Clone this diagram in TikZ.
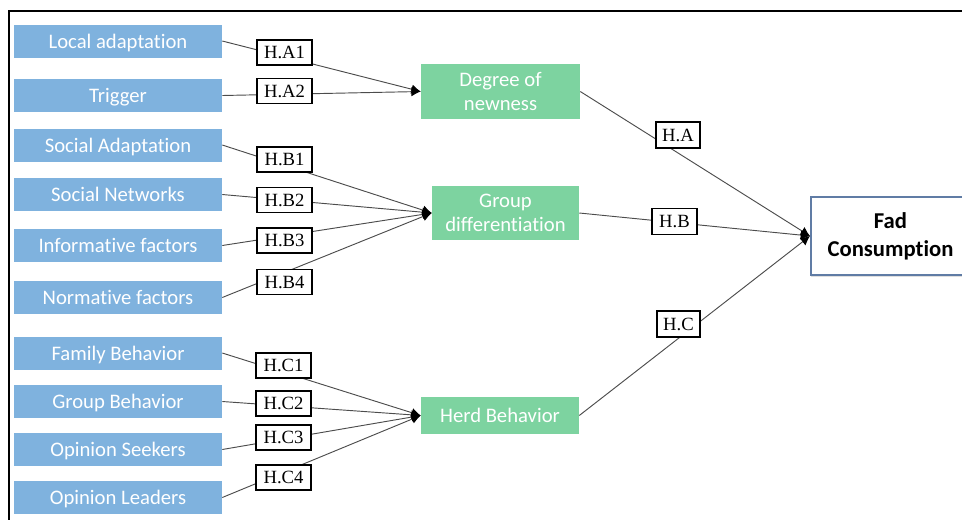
\documentclass[tikz,border=0pt]{standalone}
\usepackage{fontspec}
\setmainfont{Carlito}[Ligatures=NoCommon]
\newfontfamily\labfont{Liberation Serif}
\usetikzlibrary{arrows.meta,shadows}
\definecolor{bluebox}{RGB}{127,178,222}
\definecolor{greenbox}{RGB}{125,211,160}
\definecolor{fadborder}{RGB}{96,124,165}
\begin{document}
\begin{tikzpicture}[x=0.75pt,y=-0.75pt,
  srcbox/.style={fill=bluebox, text=white, minimum width=156pt, minimum height=24.75pt, inner sep=0pt, text depth=0pt, font=\fontsize{15.5}{18.5}\selectfont},
  midbox/.style={fill=greenbox, text=white, inner sep=0pt, align=center, font=\fontsize{15.5}{18.5}\selectfont},
  hyp/.style={draw=black, line width=0.9pt, fill=white, inner sep=0pt, minimum width=41.25pt, minimum height=18.75pt, font=\labfont\fontsize{14}{16}\selectfont},
  link/.style={draw=black!70, line width=0.7pt, -{Latex[length=7pt,width=7pt,black]}},
  fadbox/.style={draw=fadborder, line width=1.5pt, fill=white, inner sep=0pt, align=center,
    minimum width=119.25pt, minimum height=58.5pt, font=\bfseries\fontsize{17}{21}\selectfont,
    drop shadow={shadow xshift=0pt, shadow yshift=-1.5pt, fill=black!25}}
]
\useasboundingbox (0,0) rectangle (962,519);
\clip (0,0) rectangle (962,519);
\draw[line width=1.5pt] (9,11) rectangle (980,540);

% source boxes
\node[srcbox] (la) at (118,41) {Local adaptation};
\node[srcbox] (tr) at (118,95.5) {Trigger};
\node[srcbox] (sa) at (118,145) {Social Adaptation};
\node[srcbox] (sn) at (118,194.5) {Social Networks};
\node[srcbox] (if) at (118,245.5) {Informative factors};
\node[srcbox] (nf) at (118,297.5) {Normative factors};
\node[srcbox] (fb) at (118,353) {Family Behavior};
\node[srcbox] (gb) at (118,401.5) {Group Behavior};
\node[srcbox] (os) at (118,449.5) {Opinion Seekers};
\node[srcbox] (ol) at (118,497.5) {Opinion Leaders};

% middle boxes
\node[midbox, minimum width=119.25pt, minimum height=41.25pt] (dn) at (500.5,91.5) {Degree of\\newness};
\node[midbox, minimum width=110.25pt, minimum height=40.5pt] (gd) at (505.5,213) {Group\\differentiation};
\node[midbox, minimum width=118.5pt, minimum height=27.75pt, text depth=0pt] (hb) at (500,415.5) {Herd Behavior};

% target
\node[fadbox] (fad) at (890.5,236) {Fad\\Consumption};

% links
\draw[link] (la.east) -- (dn.west);
\draw[link] (tr.east) -- (dn.west);
\draw[link] (sa.east) -- (gd.west);
\draw[link] (sn.east) -- (gd.west);
\draw[link] (if.east) -- (gd.west);
\draw[link] (nf.east) -- (gd.west);
\draw[link] (fb.east) -- (hb.west);
\draw[link] (gb.east) -- (hb.west);
\draw[link] (os.east) -- (hb.west);
\draw[link] (ol.east) -- (hb.west);
\draw[link] (dn.east) -- (fad.west);
\draw[link] (gd.east) -- (fad.west);
\draw[link] (hb.east) -- (fad.west);

% hypothesis labels
\node[hyp] (ha1) at (284.5,52.5) {H.A1};
\node[hyp] (ha2) at (284.5,91) {H.A2};
\node[hyp] (hb1) at (284.5,159.5) {H.B1};
\node[hyp] (hb2) at (284.5,200) {H.B2};
\node[hyp] (hb3) at (284.5,240.5) {H.B3};
\node[hyp] (hb4) at (284.5,282) {H.B4};
\node[hyp] (hc1) at (283.5,365.5) {H.C1};
\node[hyp] (hc2) at (283.5,403.5) {H.C2};
\node[hyp] (hc3) at (283.5,437.5) {H.C3};
\node[hyp] (hc4) at (283.5,477.5) {H.C4};
\node[hyp, minimum width=33pt, minimum height=19.5pt] (ha) at (678,135) {H.A};
\node[hyp, minimum width=33.75pt, minimum height=19.5pt] (hbl) at (674.5,221.5) {H.B};
\node[hyp, minimum width=32.25pt, minimum height=19.5pt] (hc) at (678.5,324) {H.C};
\end{tikzpicture}
\end{document}
